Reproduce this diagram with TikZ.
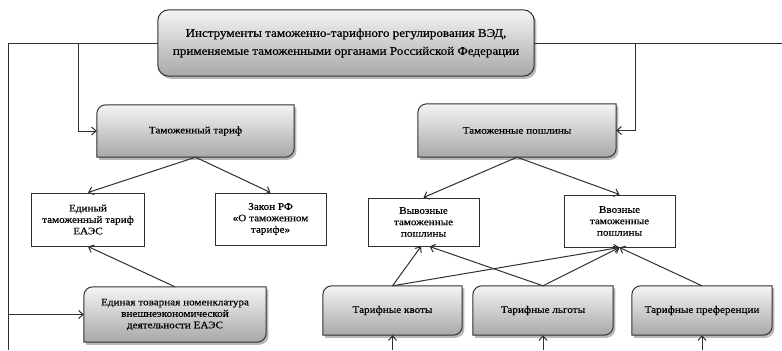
\documentclass[tikz,border=0pt]{standalone}
\usepackage{fontspec}
\setmainfont{Liberation Serif}[FakeStretch=1.12,FakeBold=0.4]
\usetikzlibrary{arrows.meta,backgrounds}
\definecolor{ln}{HTML}{303030}
\definecolor{shtop}{HTML}{F4F4F4}
\definecolor{shbot}{HTML}{A8A8A8}
\tikzset{
  box/.style={draw=none,inner sep=0pt,align=center,font=\fontsize{10}{11.5}\selectfont},
  plainbox/.style={draw=ln,line width=1bp,fill=white,inner sep=0pt,align=center,font=\fontsize{10}{11.5}\selectfont},
  arr/.style={draw=ln,line width=1bp,-{Straight Barb[length=4.5pt,width=8pt]}},
  con/.style={draw=ln,line width=1bp},
  shadowfill/.style={fill=black!28},
  grad/.style={top color=shtop,bottom color=shbot},
  edge/.style={draw=ln,line width=1bp}
}
\newcommand{\dpath}[2]{([yshift=-#2]#1.north west) arc[start angle=180,end angle=90,radius=#2] -- (#1.north east) -- ([yshift=#2]#1.south east) arc[start angle=0,end angle=-90,radius=#2] -- (#1.south west) -- cycle}
\newcommand{\diagshape}[1]{%
  \begin{scope}[transform canvas={shift={(2.2bp,-2.6bp)}}]\fill[shadowfill] \dpath{#1}{9bp};\end{scope}
  \shade[grad] \dpath{#1}{9bp};
  \draw[edge] \dpath{#1}{9bp};}
\begin{document}
\begin{tikzpicture}[x=1bp,y=-1bp]
\useasboundingbox (0,0) rectangle (782,350);
% nodes
\node[box,minimum width=376bp,minimum height=66bp,font=\fontsize{11.7}{18}\selectfont] (top) at (346,43) {Инструменты таможенно-тарифного регулирования ВЭД,\\применяемые таможенными органами Российской Федерации};
\node[box,minimum width=197bp,minimum height=52bp] (tariff) at (195.5,131) {Таможенный тариф};
\node[box,minimum width=198bp,minimum height=53bp] (duties) at (517,130.5) {Таможенные пошлины};
\node[plainbox,minimum width=112bp,minimum height=53bp] (ett) at (88,219.5) {Единый\\таможенный тариф\\ЕАЭС};
\node[plainbox,minimum width=111bp,minimum height=52bp] (law) at (270.5,219) {Закон РФ\\«О таможенном\\тарифе»};
\node[plainbox,minimum width=111bp,minimum height=48bp] (out) at (423.5,222) {Вывозные\\таможенные\\пошлины};
\node[plainbox,minimum width=111bp,minimum height=52bp] (in) at (619.5,221) {Ввозные\\таможенные\\пошлины};
\node[box,minimum width=182bp,minimum height=55bp] (etn) at (175,314.5) {Единая товарная номенклатура\\внешнеэкономической\\деятельности ЕАЭС};
\node[box,minimum width=139bp,minimum height=49bp] (quota) at (392.5,310.5) {Тарифные квоты};
\node[box,minimum width=140bp,minimum height=49bp] (lgoty) at (543,310.5) {Тарифные льготы};
\node[box,minimum width=140bp,minimum height=49bp] (pref) at (702,310.5) {Тарифные преференции};
% shapes
\begin{pgfonlayer}{background}
  \begin{scope}[transform canvas={shift={(2.2bp,-2.6bp)}}]\fill[shadowfill,rounded corners=11bp] (top.north west) rectangle (top.south east);\end{scope}
  \shade[grad,rounded corners=11bp] (top.north west) rectangle (top.south east);
  \draw[edge,rounded corners=11bp] (top.north west) rectangle (top.south east);
  \diagshape{tariff}
  \diagshape{duties}
  \diagshape{etn}
  \diagshape{quota}
  \diagshape{lgoty}
  \diagshape{pref}
\end{pgfonlayer}
% coordinates
\coordinate (lout) at (8,43);
\coordinate (lbot) at (8,350);
\coordinate (lin) at (78,43);
\coordinate (rin) at (635,43);
\coordinate (rend) at (782,43);
\coordinate (qb) at (392.5,350);
\coordinate (lb) at (543,350);
\coordinate (pb) at (702,350);
% connectors
\draw[con] (top.west) -| (lbot);
\draw[arr] (lout |- etn.west) -- (etn.west);
\draw[arr] (lin) |- (tariff.west);
\draw[con] (top.east) -- (rend);
\draw[arr] (rin) |- (duties.east);
\draw[arr] (tariff.south) -- (ett.north);
\draw[arr] (tariff.south) -- (law.north);
\draw[arr] (duties.south) -- (out.north);
\draw[arr] (duties.south) -- (in.north);
\draw[arr] (etn.north) -- (ett.south);
\draw[arr] (quota.north) -- ([xshift=-2.5bp]out.south);
\draw[arr] (lgoty.north) -- ([xshift=6bp]out.south);
\draw[arr] (quota.north) -- (in.south);
\draw[arr] (lgoty.north) -- (in.south);
\draw[arr] (pref.north) -- (in.south);
\draw[arr] (qb) -- (quota.south);
\draw[arr] (lb) -- (lgoty.south);
\draw[arr] (pb) -- (pref.south);
\end{tikzpicture}
\end{document}
